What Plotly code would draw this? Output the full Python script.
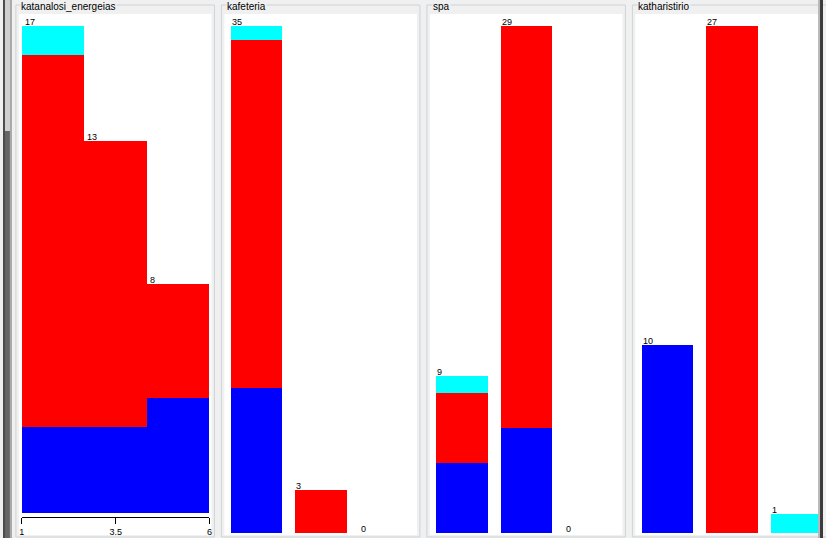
import plotly.graph_objects as go

W, H = 826, 538

# ---------------- data ----------------
panel_titles = ["katanalosi_energeias", "kafeteria", "spa", "katharistirio"]

# numeric attribute (histogram, 3 bins over [1, 6])
hist_min, hist_max, hist_bins = 1, 6, 3
hist_blue = [3, 3, 4]
hist_red = [13, 10, 4]
hist_cyan = [1, 0, 0]
hist_ticks = [1, 3.5, 6]
hist_ticktext = ["1", "3.5", "6"]

# nominal attributes (3 values each)
kafeteria_blue = [10, 0, 0]
kafeteria_red = [24, 3, 0]
kafeteria_cyan = [1, 0, 0]

spa_blue = [4, 6, 0]
spa_red = [4, 23, 0]
spa_cyan = [1, 0, 0]

katharistirio_blue = [10, 0, 0]
katharistirio_red = [0, 27, 0]
katharistirio_cyan = [0, 0, 1]

class_colors = ["#0000ff", "#ff0000", "#00ffff"]

# ---------------- helpers ----------------
def px(x):
    return x / W

def py(y):
    return 1 - y / H

FONT = "Liberation Sans"
fig = go.Figure()
annotations = []
shapes = []

BG = "#f0f0f0"
BORDER = "#cdd3d7"

# panel group boxes and white plotting backgrounds
box_lefts = [13, 220, 427, 634]
white_lefts = [16, 223, 430, 637]
title_x = [18, 226, 433, 640]
for i in range(4):
    bl = box_lefts[i]
    shapes.append(dict(type="rect", xref="paper", yref="paper",
                       x0=px(bl), x1=px(bl + 200), y0=py(537), y1=py(5),
                       line=dict(color=BORDER, width=1), fillcolor=BG, layer="below"))
    wl = white_lefts[i]
    shapes.append(dict(type="rect", xref="paper", yref="paper",
                       x0=px(wl), x1=px(min(wl + 194, 821)), y0=py(535), y1=py(14),
                       line=dict(width=0), fillcolor="white", layer="below"))
    annotations.append(dict(xref="paper", yref="paper", x=px(title_x[i] - 1), y=py(6),
                            xanchor="left", yanchor="middle", showarrow=False,
                            text=panel_titles[i], bgcolor=BG, borderpad=0,
                            font=dict(family=FONT, size=10, color="black")))

# ---------------- panel 1: histogram ----------------
bw = (hist_max - hist_min) / hist_bins
centers = [hist_min + bw * (k + 0.5) for k in range(hist_bins)]
lefts = [hist_min + bw * k for k in range(hist_bins)]
for vals, col in zip([hist_blue, hist_red, hist_cyan], class_colors):
    fig.add_trace(go.Bar(x=centers, y=vals, width=[bw] * hist_bins,
                         marker=dict(color=col, line=dict(width=0)),
                         xaxis="x", yaxis="y", showlegend=False, hoverinfo="skip"))
tot1 = [a + b + c for a, b, c in zip(hist_blue, hist_red, hist_cyan)]
max1 = max(tot1)
scale1 = (513 - 26) / max1
for xl, t in zip(lefts, tot1):
    annotations.append(dict(xref="x", yref="y", x=xl, y=t, xanchor="left", yanchor="bottom",
                            text=str(t), showarrow=False, borderpad=0, xshift=2, yshift=-2,
                            font=dict(family=FONT, size=9, color="black")))

layout_axes = dict(
    xaxis=dict(domain=[px(19), px(208)], range=[hist_min, hist_max], anchor="y",
               showline=True, linecolor="black", linewidth=1, ticks="outside",
               ticklen=6, tickcolor="black", tickvals=hist_ticks, ticktext=hist_ticktext,
               showgrid=False, zeroline=False,
               tickfont=dict(family=FONT, size=9, color="black")),
    yaxis=dict(domain=[py(517), py(26)], range=[-4 / scale1, max1], visible=False,
               anchor="x"),
)

# ---------------- nominal panels ----------------
nominal = [
    (kafeteria_blue, kafeteria_red, kafeteria_cyan, 223, 418),
    (spa_blue, spa_red, spa_cyan, 430, 625),
    (katharistirio_blue, katharistirio_red, katharistirio_cyan, 637, 826),
]
slot_px = 65
bar_w = 0.8
for j, (bl, rd, cy, d0, d1) in enumerate(nominal):
    n = j + 2
    xa, ya = f"x{n}", f"y{n}"
    xs = list(range(len(bl)))
    for vals, col in zip([bl, rd, cy], class_colors):
        fig.add_trace(go.Bar(x=xs, y=vals, width=[bar_w] * len(xs),
                             marker=dict(color=col, line=dict(width=0)),
                             xaxis=xa, yaxis=ya, showlegend=False, hoverinfo="skip"))
    tots = [a + b + c for a, b, c in zip(bl, rd, cy)]
    mx = max(tots)
    for xi, t in zip(xs, tots):
        annotations.append(dict(xref=xa, yref=ya, x=xi - bar_w / 2, y=t, xanchor="left",
                                yanchor="bottom", text=str(t), showarrow=False, borderpad=0,
                                yshift=-2,
                                font=dict(family=FONT, size=9, color="black")))
    layout_axes[f"xaxis{n}"] = dict(domain=[px(d0), px(d1)],
                                    range=[-0.5, -0.5 + (d1 - d0) / slot_px],
                                    visible=False, anchor=ya)
    layout_axes[f"yaxis{n}"] = dict(domain=[py(533), py(26)], range=[0, mx],
                                    visible=False, anchor=xa)

# window frame decorations (left scrollbar strip, right border)
shapes += [
    dict(type="rect", xref="paper", yref="paper", x0=0, x1=px(2), y0=0, y1=1,
         fillcolor="#4a4a4a", line=dict(width=0), layer="above"),
    dict(type="rect", xref="paper", yref="paper", x0=px(2), x1=px(7), y0=py(131), y1=1,
         fillcolor="#cfcfcf", line=dict(width=0), layer="above"),
    dict(type="rect", xref="paper", yref="paper", x0=px(2), x1=px(7), y0=0, y1=py(131),
         fillcolor="#656565", line=dict(width=0), layer="above"),
    dict(type="rect", xref="paper", yref="paper", x0=px(7), x1=px(9), y0=0, y1=1,
         fillcolor="#a8a8a8", line=dict(width=0), layer="above"),
    dict(type="rect", xref="paper", yref="paper", x0=px(821), x1=px(823), y0=0, y1=1,
         fillcolor="#b8b8b8", line=dict(width=0), layer="above"),
    dict(type="rect", xref="paper", yref="paper", x0=px(823), x1=1, y0=0, y1=1,
         fillcolor="#3c3c3c", line=dict(width=0), layer="above"),
]

fig.update_layout(
    width=W, height=H, margin=dict(l=0, r=0, t=0, b=0),
    paper_bgcolor=BG, plot_bgcolor="white",
    barmode="stack", bargap=0, showlegend=False,
    annotations=annotations, shapes=shapes,
    font=dict(family=FONT, size=11, color="black"),
    **layout_axes,
)

fig.write_html(
    "out.html",
    config={"displayModeBar": False, "staticPlot": True},
    post_script="document.body.style.margin='0';document.body.style.overflow='hidden';",
)
